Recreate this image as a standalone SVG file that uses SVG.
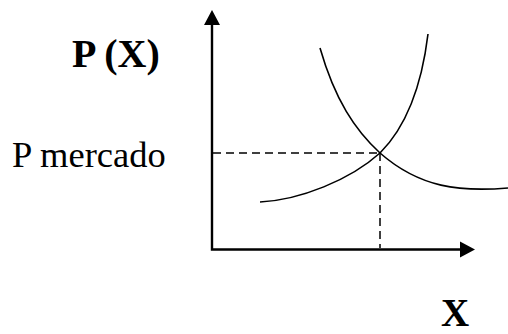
<svg xmlns="http://www.w3.org/2000/svg" width="508" height="334" viewBox="0 0 508 334">
  <style>
    .axis { fill: none; stroke: #000; stroke-width: 2.4; stroke-linejoin: miter; }
    .head { fill: #000; stroke: none; }
    .curve { fill: none; stroke: #000; stroke-width: 1.6; }
    .dash { fill: none; stroke: #000; stroke-width: 1.5; stroke-dasharray: 8 5; }
    .lbl { font-family: "Liberation Serif", "Times New Roman", serif; fill: #000; }
    .bold { font-weight: bold; font-size: 40px; }
    .reg { font-size: 36.5px; }
  </style>
  <rect width="508" height="334" fill="#fff"/>
  <g id="connectors">
    <path class="axis" d="M212,24 L212,249.5 L461,249.5"/>
    <polygon class="head" points="212,10 204,25 220,25"/>
    <polygon class="head" points="475,249.5 460,241.5 460,257.5"/>
    <path class="dash" d="M213,153 L380,153"/>
    <path class="dash" d="M380,153 L380,248"/>
  </g>
  <g id="demand">
    <path class="curve" d="M320,48 C335,100 355,130 380,153 C420,188 460,192 508,188"/>
  </g>
  <g id="supply">
    <path class="curve" d="M260,202 C300,200 350,180 380,153 C400,133 420,100 428,34"/>
  </g>
  <g id="label-px">
    <text class="lbl bold" x="72" y="67">P (X)</text>
  </g>
  <g id="label-pmercado">
    <text class="lbl reg" x="12" y="167">P mercado</text>
  </g>
  <g id="label-x">
    <text class="lbl bold" x="441" y="326" style="font-size:39px">X</text>
  </g>
</svg>
